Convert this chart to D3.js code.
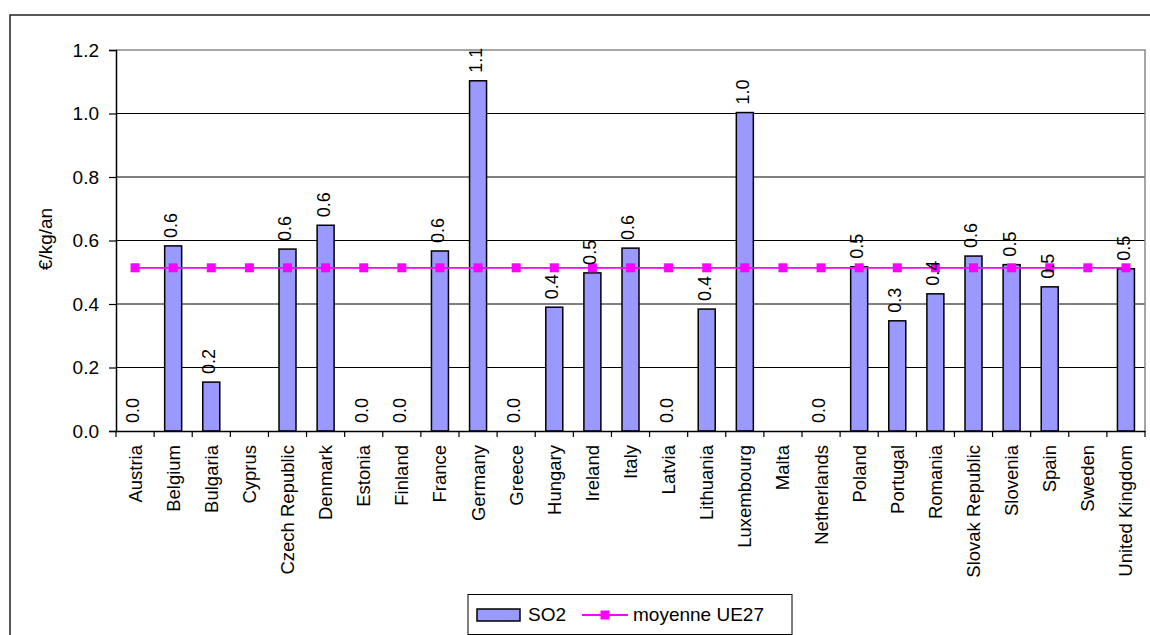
<!DOCTYPE html>
<html>
<head>
<meta charset="utf-8">
<script src="https://cdn.jsdelivr.net/npm/d3@7"></script>
<style>
  body { margin: 0; background: #fff; }
  svg text { font-family: "Liberation Sans", Arial, sans-serif; fill: #000; }
</style>
</head>
<body>
<svg id="chart" width="1150" height="635"></svg>
<script>
// SO2 cost per country, €/kg/an (null = no value shown)
var countries = ["Austria", "Belgium", "Bulgaria", "Cyprus", "Czech Republic", "Denmark",
  "Estonia", "Finland", "France", "Germany", "Greece", "Hungary", "Ireland", "Italy",
  "Latvia", "Lithuania", "Luxembourg", "Malta", "Netherlands", "Poland", "Portugal",
  "Romania", "Slovak Republic", "Slovenia", "Spain", "Sweden", "United Kingdom"];

var so2 = [0, 0.583, 0.154, null, 0.573, 0.648, 0, 0, 0.567, 1.103, 0, 0.39, 0.498, 0.576,
  0, 0.384, 1.003, null, 0, 0.517, 0.347, 0.432, 0.551, 0.524, 0.454, null, 0.511];

var moyenneUE27 = [0.514, 0.514, 0.514, 0.514, 0.514, 0.514, 0.514, 0.514, 0.514, 0.514,
  0.514, 0.514, 0.514, 0.514, 0.514, 0.514, 0.514, 0.514, 0.514, 0.514, 0.514, 0.514,
  0.514, 0.514, 0.514, 0.514, 0.514];

var yTicks = [0, 0.2, 0.4, 0.6, 0.8, 1.0, 1.2];

var svg = d3.select("#chart");

// outer chart frame (runs off the right and bottom of the window)
svg.append("rect")
  .attr("x", 10).attr("y", 15)
  .attr("width", 1160).attr("height", 640)
  .attr("fill", "none")
  .attr("stroke", "#222")
  .attr("stroke-width", 1.5);

var plotLeft = 116, plotRight = 1145, plotTop = 50, plotBottom = 431;

var x = d3.scaleBand().domain(countries).range([plotLeft, plotRight]).padding(0);
var y = d3.scaleLinear().domain([0, 1.2]).range([plotBottom, plotTop]);

// gridlines
svg.append("g")
  .selectAll("line")
  .data(yTicks.filter(function(d) { return d > 0 && d < 1.2; }))
  .enter()
  .append("line")
  .attr("x1", plotLeft).attr("x2", plotRight)
  .attr("y1", function(d) { return y(d); })
  .attr("y2", function(d) { return y(d); })
  .attr("stroke", "#000")
  .attr("stroke-width", 1);

// plot area border (top / right, grey)
svg.append("path")
  .attr("d", "M" + plotLeft + "," + plotTop + "H" + plotRight + "V" + plotBottom)
  .attr("fill", "none")
  .attr("stroke", "#888")
  .attr("stroke-width", 1.5);

// bars
var barW = 17;
svg.append("g")
  .selectAll("rect")
  .data(countries.map(function(c, i) { return { c: c, v: so2[i] }; })
    .filter(function(d) { return d.v !== null && d.v > 0; }))
  .enter()
  .append("rect")
  .attr("x", function(d) { return x(d.c) + x.bandwidth() / 2 - barW / 2; })
  .attr("y", function(d) { return y(d.v); })
  .attr("width", barW)
  .attr("height", function(d) { return plotBottom - y(d.v); })
  .attr("fill", "#9999FF")
  .attr("stroke", "#000")
  .attr("stroke-width", 1.5);

// y axis
var yAxis = svg.append("g")
  .attr("transform", "translate(" + plotLeft + ",0)")
  .call(d3.axisLeft(y).tickValues(yTicks).tickFormat(d3.format(".1f")).tickSize(7).tickPadding(10));
yAxis.select(".domain").attr("stroke", "#000").attr("stroke-width", 1.5);
yAxis.selectAll(".tick line").attr("stroke", "#000").attr("stroke-width", 1.2);
yAxis.selectAll(".tick text").attr("font-size", 19).attr("font-family", "Liberation Sans, Arial, sans-serif");

// x axis
var xAxis = svg.append("g")
  .attr("transform", "translate(0," + plotBottom + ")")
  .call(d3.axisBottom(x).tickSize(0).tickFormat(""));
xAxis.select(".domain").attr("stroke", "#000").attr("stroke-width", 1.5);
xAxis.selectAll(".tick").remove();

// tick marks between categories
svg.append("g")
  .selectAll("line")
  .data(countries.concat(["_end"]))
  .enter()
  .append("line")
  .attr("x1", function(d, i) { return plotLeft + i * x.step(); })
  .attr("x2", function(d, i) { return plotLeft + i * x.step(); })
  .attr("y1", plotBottom).attr("y2", plotBottom + 6)
  .attr("stroke", "#000")
  .attr("stroke-width", 1.2);

// category labels
svg.append("g")
  .selectAll("text")
  .data(countries)
  .enter()
  .append("text")
  .attr("transform", function(d) {
    return "translate(" + (x(d) + x.bandwidth() / 2) + "," + (plotBottom + 14) + ") rotate(-90)";
  })
  .attr("dy", "0.35em")
  .attr("text-anchor", "end")
  .attr("font-size", 18.5)
  .text(function(d) { return d; });

// average line + markers
var line = d3.line()
  .x(function(d, i) { return x(countries[i]) + x.bandwidth() / 2; })
  .y(function(d) { return y(d); });

svg.append("path")
  .datum(moyenneUE27)
  .attr("d", line)
  .attr("fill", "none")
  .attr("stroke", "#FF00FF")
  .attr("stroke-width", 1.8);

svg.append("g")
  .selectAll("rect")
  .data(moyenneUE27)
  .enter()
  .append("rect")
  .attr("x", function(d, i) { return x(countries[i]) + x.bandwidth() / 2 - 4.5; })
  .attr("y", function(d) { return y(d) - 4.5; })
  .attr("width", 9).attr("height", 9)
  .attr("fill", "#FF00FF");

// value labels
svg.append("g")
  .selectAll("text")
  .data(countries.map(function(c, i) { return { c: c, v: so2[i] }; })
    .filter(function(d) { return d.v !== null; }))
  .enter()
  .append("text")
  .attr("transform", function(d) {
    return "translate(" + (x(d.c) + x.bandwidth() / 2) + "," + (y(d.v) - 8) + ") rotate(-90)";
  })
  .attr("dy", "0.22em")
  .attr("text-anchor", "start")
  .attr("font-size", 18)
  .text(function(d) { return d3.format(".1f")(d.v); });

// y axis title
svg.append("text")
  .attr("transform", "translate(45,239) rotate(-90)")
  .attr("dy", "0.35em")
  .attr("text-anchor", "middle")
  .attr("font-size", 19)
  .text("€/kg/an");

// legend
var legend = svg.append("g");
legend.append("rect")
  .attr("x", 468).attr("y", 594.5)
  .attr("width", 324).attr("height", 40)
  .attr("fill", "#fff")
  .attr("stroke", "#000")
  .attr("stroke-width", 1);
legend.append("rect")
  .attr("x", 477).attr("y", 609)
  .attr("width", 43).attr("height", 12)
  .attr("fill", "#9999FF")
  .attr("stroke", "#000")
  .attr("stroke-width", 1.5);
legend.append("text")
  .attr("x", 528).attr("y", 621)
  .attr("font-size", 19)
  .text("SO2");
legend.append("line")
  .attr("x1", 582).attr("x2", 628)
  .attr("y1", 615).attr("y2", 615)
  .attr("stroke", "#FF00FF")
  .attr("stroke-width", 1.8);
legend.append("rect")
  .attr("x", 600.5).attr("y", 610.5)
  .attr("width", 9).attr("height", 9)
  .attr("fill", "#FF00FF");
legend.append("text")
  .attr("x", 633).attr("y", 621)
  .attr("font-size", 19)
  .text("moyenne UE27");
</script>
</body>
</html>
